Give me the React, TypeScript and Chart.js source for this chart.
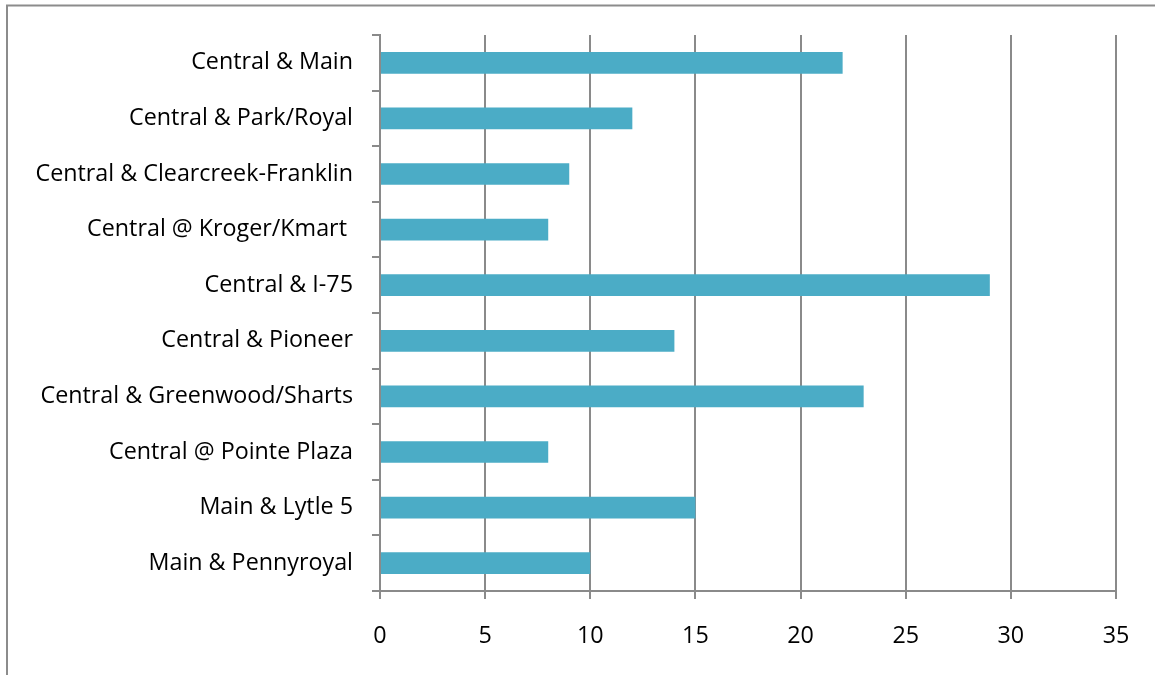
import React, { useEffect, useRef } from "react";
import { Chart, registerables } from "chart.js";

Chart.register(...registerables);

const categories = [
  "Central & Main",
  "Central & Park/Royal",
  "Central & Clearcreek-Franklin",
  "Central @ Kroger/Kmart ",
  "Central & I-75",
  "Central & Pioneer",
  "Central & Greenwood/Sharts",
  "Central @ Pointe Plaza",
  "Main & Lytle 5",
  "Main & Pennyroyal",
];
const values = [22, 12, 9, 8, 29, 14, 23, 8, 15, 10];
const xMin = 0;
const xMax = 35;
const xStep = 5;

const FONT = { family: "'Open Sans', sans-serif", size: 23.3 };
const GRID = "#8a8a8a";

const frame = {
  id: "frame",
  beforeDraw(chart: any) {
    const ctx = chart.ctx;
    ctx.save();
    ctx.fillStyle = "#ffffff";
    ctx.fillRect(0, 0, chart.width, chart.height);
    ctx.strokeStyle = "#8c8c8c";
    ctx.lineWidth = 2;
    ctx.beginPath();
    ctx.moveTo(7, chart.height + 5);
    ctx.lineTo(7, 5.5);
    ctx.lineTo(chart.width + 5, 5.5);
    ctx.stroke();
    ctx.restore();
  },
};

export default function App() {
  const ref = useRef<HTMLCanvasElement>(null);
  useEffect(() => {
    if (!ref.current) return;
    const chart = new Chart(ref.current, {
      type: "bar",
      data: {
        labels: categories,
        datasets: [
          {
            data: values,
            backgroundColor: "#4BACC6",
            borderWidth: 0,
            categoryPercentage: 1,
            barPercentage: 0.39,
          },
        ],
      },
      options: {
        indexAxis: "y",
        animation: false,
        responsive: false,
        devicePixelRatio: 1,
        layout: { padding: { top: 35, right: 39, left: 0, bottom: 0 } },
        plugins: { legend: { display: false }, tooltip: { enabled: false } },
        scales: {
          x: {
            min: xMin,
            max: xMax,
            ticks: { stepSize: xStep, font: FONT, color: "#000", padding: 23 },
            grid: { color: GRID, lineWidth: 2, tickLength: 8 },
            border: { display: true, color: GRID, width: 2 },
            afterFit: (s: any) => {
              s.height = 84;
            },
          },
          y: {
            ticks: { font: FONT, color: "#000", padding: 19, autoSkip: false },
            grid: { drawOnChartArea: false, color: GRID, lineWidth: 2, tickLength: 8, offset: true },
            border: { display: true, color: GRID, width: 2 },
            afterFit: (s: any) => {
              s.width = 380;
            },
          },
        },
      },
      plugins: [frame],
    });
    return () => chart.destroy();
  }, []);
  return (
    <canvas
      ref={ref}
      width={1155}
      height={675}
      style={{ position: "absolute", left: 0, top: 0, width: 1155, height: 675 }}
    />
  );
}
